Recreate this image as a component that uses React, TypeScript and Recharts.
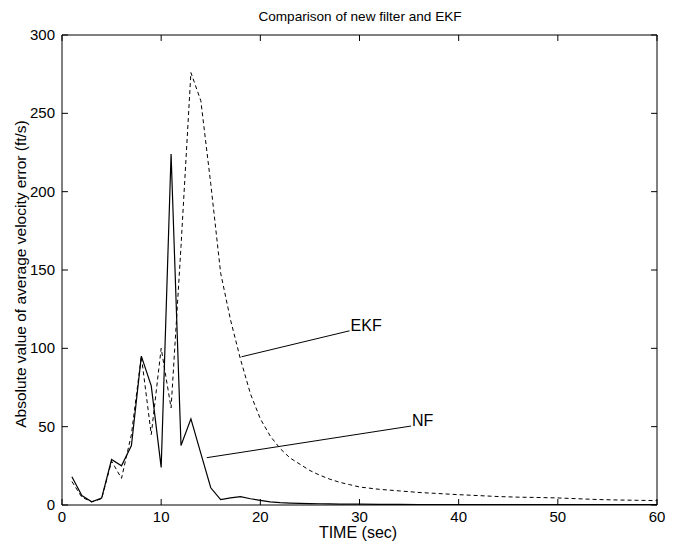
import React from 'react';
import { LineChart, Line, XAxis, YAxis, ReferenceLine, ReferenceDot } from 'recharts';

const times = [1, 2, 3, 4, 5, 6, 7, 8, 9, 10, 11, 12, 13, 14, 15, 16, 17, 18, 19, 20, 21, 22, 23, 24, 25, 26, 27, 28, 29, 30, 32, 34, 36, 38, 40, 42, 44, 46, 48, 50, 52, 54, 56, 58, 60];
const nfValues = [18, 6, 2, 4.5, 29, 25, 38, 95, 76, 24, 224, 38, 55, 33, 11, 3.5, 4.5, 5.3, 4, 3, 2, 1.5, 1.2, 1, 0.9, 0.8, 0.7, 0.6, 0.5, 0.5, 0.4, 0.4, 0.3, 0.3, 0.3, 0.3, 0.2, 0.2, 0.2, 0.2, 0.2, 0.2, 0.2, 0.2, 0.2];
const ekfValues = [15, 5, 2, 4, 28, 17, 45, 95, 45, 100, 62, 165, 276, 258, 205, 148, 118, 93, 71, 55, 44, 36, 30, 26, 22, 19, 16.5, 14.5, 13, 11.5, 10, 9, 8, 7.3, 6.6, 6, 5.4, 5, 4.8, 4.5, 4, 3.5, 3.2, 3, 2.8];
const xTicks = [0, 10, 20, 30, 40, 50, 60];
const yTicks = [0, 50, 100, 150, 200, 250, 300];

const ekfPointer = [{ x: 18.1, y: 94.6 }, { x: 29.0, y: 111.2 }];
const nfPointer = [{ x: 14.6, y: 30.2 }, { x: 35.2, y: 50.4 }];

const X_MIN = 0;
const X_MAX = 60;
const Y_MIN = 0;
const Y_MAX = 300;
// inward tick mark lengths expressed in axis units (~6px)
const TICK_LEN_X = 0.6;
const TICK_LEN_Y = 3.8;

const data = times.map((t, i) => ({ t, nf: nfValues[i], ekf: ekfValues[i] }));

const FONT = '"Liberation Sans", Arial, Helvetica, sans-serif';

const BottomTick = (props: any) => {
  const { x, y, payload } = props;
  return (
    <text x={x} y={y + 9} textAnchor="middle" fontSize={15} fontFamily={FONT} fill="#000">
      {payload.value}
    </text>
  );
};

const LeftTick = (props: any) => {
  const { x, y, payload } = props;
  return (
    <text x={x + 1} y={y + 5} textAnchor="end" fontSize={15} fontFamily={FONT} fill="#000">
      {payload.value}
    </text>
  );
};

export default function App() {
  return (
    <div style={{ position: 'absolute', left: 0, top: 0, width: 674, height: 546, background: '#fff', fontFamily: FONT }}>
      <div style={{ position: 'absolute', left: 0, width: 720, top: 9, textAlign: 'center', fontSize: 13.6, color: '#000' }}>
        Comparison of new filter and EKF
      </div>
      <div style={{ position: 'absolute', left: 0, width: 716, top: 525, textAlign: 'center', fontSize: 16, lineHeight: '15px', color: '#000' }}>
        TIME (sec)
      </div>
      <div
        style={{
          position: 'absolute',
          left: 21,
          top: 274,
          transform: 'translate(-50%, -50%) rotate(-90deg)',
          whiteSpace: 'nowrap',
          fontSize: 15.5,
          color: '#000',
        }}
      >
        Absolute value of average velocity error (ft/s)
      </div>
      <LineChart width={674} height={546} data={data} margin={{ top: 35, right: 17, bottom: 11, left: 22 }}>
        <XAxis
          dataKey="t"
          type="number"
          domain={[X_MIN, X_MAX]}
          ticks={xTicks}
          height={30}
          tickLine={false}
          tick={<BottomTick />}
          axisLine={{ stroke: '#000' }}
          interval={0}
        />
        <YAxis
          type="number"
          domain={[Y_MIN, Y_MAX]}
          ticks={yTicks}
          width={40}
          tickLine={false}
          tick={<LeftTick />}
          axisLine={{ stroke: '#000' }}
          interval={0}
          allowDataOverflow
        />
        {/* frame: top and right edges */}
        <ReferenceLine y={Y_MAX} stroke="#000" strokeWidth={1} ifOverflow="visible" />
        <ReferenceLine x={X_MAX} stroke="#000" strokeWidth={1} ifOverflow="visible" />
        {/* inward tick marks on all four sides */}
        {xTicks.map((t) => (
          <ReferenceLine
            key={'xb' + t}
            segment={[{ x: t, y: Y_MIN }, { x: t, y: Y_MIN + TICK_LEN_Y }]}
            stroke="#000"
            ifOverflow="visible"
          />
        ))}
        {xTicks.map((t) => (
          <ReferenceLine
            key={'xt' + t}
            segment={[{ x: t, y: Y_MAX }, { x: t, y: Y_MAX - TICK_LEN_Y }]}
            stroke="#000"
            ifOverflow="visible"
          />
        ))}
        {yTicks.map((v) => (
          <ReferenceLine
            key={'yl' + v}
            segment={[{ x: X_MIN, y: v }, { x: X_MIN + TICK_LEN_X, y: v }]}
            stroke="#000"
            ifOverflow="visible"
          />
        ))}
        {yTicks.map((v) => (
          <ReferenceLine
            key={'yr' + v}
            segment={[{ x: X_MAX, y: v }, { x: X_MAX - TICK_LEN_X, y: v }]}
            stroke="#000"
            ifOverflow="visible"
          />
        ))}
        <Line
          type="linear"
          dataKey="ekf"
          stroke="#000"
          strokeWidth={1}
          strokeDasharray="4 3"
          dot={false}
          isAnimationActive={false}
        />
        <Line
          type="linear"
          dataKey="nf"
          stroke="#000"
          strokeWidth={1.2}
          dot={false}
          isAnimationActive={false}
        />
        <ReferenceLine segment={ekfPointer} stroke="#000" strokeWidth={1} ifOverflow="visible" />
        <ReferenceLine segment={nfPointer} stroke="#000" strokeWidth={1} ifOverflow="visible" />
        <ReferenceDot
          x={29.1}
          y={115}
          r={0}
          fill="none"
          stroke="none"
          ifOverflow="visible"
          label={{ value: 'EKF', position: 'right', offset: 0, fontSize: 16, fontFamily: FONT, fill: '#000' }}
        />
        <ReferenceDot
          x={35.3}
          y={54}
          r={0}
          fill="none"
          stroke="none"
          ifOverflow="visible"
          label={{ value: 'NF', position: 'right', offset: 0, fontSize: 16, fontFamily: FONT, fill: '#000' }}
        />
      </LineChart>
    </div>
  );
}
